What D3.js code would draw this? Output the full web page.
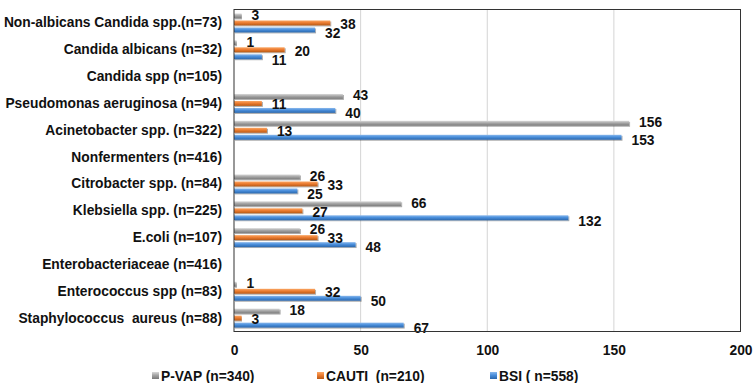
<!DOCTYPE html>
<html><head><meta charset="utf-8">
<script src="https://cdn.jsdelivr.net/npm/d3@7"></script>
<style>
html,body{margin:0;padding:0;background:#fff;}
text{font-family:"Liberation Sans",Arial,sans-serif;font-weight:bold;white-space:pre;}
</style></head>
<body>
<svg id="chart" width="756" height="383"></svg>
<script>
const categories = [
  "Non-albicans Candida spp.(n=73)",
  "Candida albicans (n=32)",
  "Candida spp (n=105)",
  "Pseudomonas aeruginosa (n=94)",
  "Acinetobacter spp. (n=322)",
  "Nonfermenters (n=416)",
  "Citrobacter spp. (n=84)",
  "Klebsiella spp. (n=225)",
  "E.coli (n=107)",
  "Enterobacteriaceae (n=416)",
  "Enterococcus spp (n=83)",
  "Staphylococcus  aureus (n=88)"
];
const seriesNames = ["P-VAP (n=340)", "CAUTI  (n=210)", "BSI ( n=558)"];
const pvap  = [3, 1, null, 43, 156, null, 26, 66, 26, null, 1, 18];
const cauti = [38, 20, null, 11, 13, null, 33, 27, 33, null, 32, 3];
const bsi   = [32, 11, null, 40, 153, null, 25, 132, 48, null, 50, 67];
const xTicks = [0, 50, 100, 150, 200];

(function () {
const FS = 13.8;
const seriesValues = [pvap, cauti, bsi];
const colors = [
  {top:"#d9d9d9", mid:"#a6a6a6", bot:"#7a7a7a"},
  {top:"#f9a766", mid:"#ed7d31", bot:"#b85a17"},
  {top:"#8ab8ec", mid:"#4a8fdc", bot:"#2c68ad"}
];
const labelDy = [-1, 1, 3];

const svg = d3.select("#chart");
const pL = 234, pR = 740.5, pT = 9.5, pB = 331.5;

const x = d3.scaleLinear().domain([0, 200]).range([pL, pR]);
const y = d3.scaleBand().domain(categories).range([pT, pB]).padding(0);
const inner = d3.scaleBand().domain(d3.range(3)).range([-10.5, 10.5]).paddingInner(0.3).paddingOuter(0.15);

const defs = svg.append("defs");
colors.forEach((c, i) => {
  const g = defs.append("linearGradient").attr("id", "grad" + i)
    .attr("x1", 0).attr("y1", 0).attr("x2", 0).attr("y2", 1);
  g.append("stop").attr("offset", "0%").attr("stop-color", c.top);
  g.append("stop").attr("offset", "45%").attr("stop-color", c.mid);
  g.append("stop").attr("offset", "100%").attr("stop-color", c.bot);
});
const f = defs.append("filter").attr("id", "shadow").attr("x", "-5%").attr("y", "-50%").attr("width", "110%").attr("height", "200%");
f.append("feDropShadow").attr("dx", 1).attr("dy", 1).attr("stdDeviation", 0.6).attr("flood-color", "#000").attr("flood-opacity", 0.35);

svg.append("g").selectAll("line").data(xTicks.slice(1, -1)).join("line")
  .attr("x1", d => x(d)).attr("x2", d => x(d))
  .attr("y1", pT).attr("y2", pB)
  .attr("stroke", "#d4d4d4").attr("stroke-width", 1);

const rows = [];
categories.forEach((cat, ci) => {
  seriesValues.forEach((vals, si) => {
    if (vals[ci] != null) rows.push({cat, si, v: vals[ci]});
  });
});
const yc = d => y(d.cat) + y.bandwidth() / 2 + inner(d.si);

svg.append("g").selectAll("rect").data(rows).join("rect")
  .attr("x", x(0))
  .attr("y", d => yc(d))
  .attr("width", d => x(d.v) - x(0))
  .attr("height", inner.bandwidth())
  .attr("fill", d => "url(#grad" + d.si + ")")
  .attr("filter", "url(#shadow)");

svg.append("g").selectAll("text").data(rows).join("text")
  .attr("x", d => x(d.v) + 10)
  .attr("y", d => yc(d) + inner.bandwidth() / 2 + labelDy[d.si])
  .attr("dy", "0.35em")
  .attr("font-size", FS)
  .attr("fill", "#111")
  .text(d => d.v);

svg.append("rect").attr("x", pL).attr("y", pT)
  .attr("width", pR - pL).attr("height", pB - pT)
  .attr("fill", "none").attr("stroke", "#333").attr("stroke-width", 1);

const yAxis = d3.axisLeft(y).tickSize(0).tickPadding(12);
const ya = svg.append("g").attr("transform", `translate(${pL},0)`).call(yAxis);
ya.select(".domain").remove();
ya.selectAll("text").attr("font-size", FS).attr("fill", "#111")
  .style("font-family", "'Liberation Sans',Arial,sans-serif").style("font-weight", "bold").style("white-space", "pre");

const xAxis = d3.axisBottom(x).tickValues(xTicks).tickSize(0).tickPadding(14);
const xa = svg.append("g").attr("transform", `translate(0,${pB})`).call(xAxis);
xa.select(".domain").remove();
xa.selectAll("text").attr("font-size", FS).attr("fill", "#111")
  .style("font-family", "'Liberation Sans',Arial,sans-serif").style("font-weight", "bold");

const legendX = [152, 317, 490];
const lg = svg.append("g").selectAll("g").data(seriesNames).join("g")
  .attr("transform", (d, i) => `translate(${legendX[i]},376)`);
lg.append("rect").attr("x", 0).attr("y", -4).attr("width", 7).attr("height", 7)
  .attr("fill", (d, i) => "url(#grad" + i + ")");
lg.append("text").attr("x", 9).attr("y", 0).attr("dy", "0.35em")
  .attr("font-size", FS).attr("fill", "#111").text(d => d);
})();
</script>
</body></html>
